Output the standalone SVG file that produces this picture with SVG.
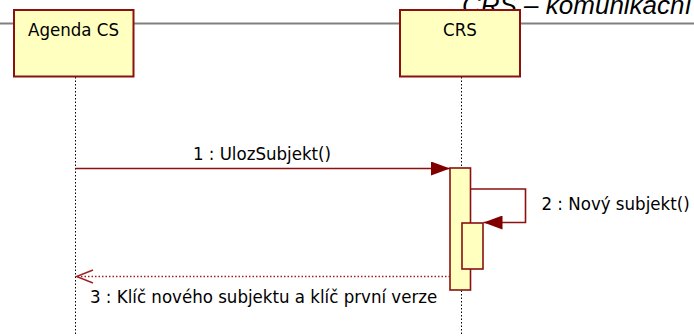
<svg xmlns="http://www.w3.org/2000/svg" width="694" height="336" viewBox="0 0 694 336">
<style>
.obj{fill:#FFFFC0;stroke:#8B1010;stroke-width:2}
.act{fill:#FFFFC0;stroke:#8B1010;stroke-width:1.6}
.life{stroke:#000;stroke-width:1;stroke-dasharray:1.5 2;fill:none}
.msg{stroke:#8B1010;stroke-width:1.6;fill:none}
.ret{stroke:#A02020;stroke-width:1.4;stroke-dasharray:1.5 2;fill:none}
.lbl{font-family:"DejaVu Sans Condensed","DejaVu Sans",sans-serif;font-stretch:condensed;font-size:18.5px;fill:#000}
.title{font-family:"Liberation Sans",Arial,sans-serif;font-style:italic;font-size:26px;fill:#000}
</style>
<defs>
<marker id="fill" markerWidth="20" markerHeight="14" refX="19" refY="7" orient="auto" markerUnits="userSpaceOnUse">
<path d="M0,0 L19,7 L0,14 Z" fill="#800000"/>
</marker>
</defs>
<text class="title" x="462" y="14">CRS – komunikační</text>
<line x1="0" y1="23.5" x2="694" y2="23.5" stroke="#808080" stroke-width="2"/>
<g id="lifelines">
<line class="life" x1="75.5" y1="77" x2="75.5" y2="336"/>
<line class="life" x1="461.5" y1="77" x2="461.5" y2="336"/>
</g>
<g id="agenda">
<rect class="obj" x="14" y="10" width="119.5" height="66.5"/>
<text class="lbl" x="73.5" y="35.5" text-anchor="middle">Agenda CS</text>
</g>
<g id="crs">
<rect class="obj" x="400" y="10" width="120" height="66.5"/>
<text class="lbl" x="460" y="35.5" text-anchor="middle">CRS</text>
</g>
<g id="activations">
<rect class="act" x="450" y="168" width="20.5" height="122"/>
<rect class="act" x="462" y="223" width="21" height="46"/>
</g>
<g id="connectors">
<line class="msg" x1="75.5" y1="168.5" x2="450" y2="168.5" marker-end="url(#fill)"/>
<polyline class="msg" points="470.5,189 525.5,189 525.5,222.5 483.5,222.5" marker-end="url(#fill)"/>
<line class="ret" x1="450" y1="276.5" x2="77" y2="276.5"/>
<polyline points="93,270 76.5,276.5 93,283" stroke="#A02020" stroke-width="1.4" fill="none"/>
</g>
<g id="labels">
<text class="lbl" x="262" y="160" text-anchor="middle">1 : UlozSubjekt()</text>
<text class="lbl" x="541.5" y="210">2 : Nový subjekt()</text>
<text class="lbl" x="90" y="302.5">3 : Klíč nového subjektu a klíč první verze</text>
</g>
</svg>
